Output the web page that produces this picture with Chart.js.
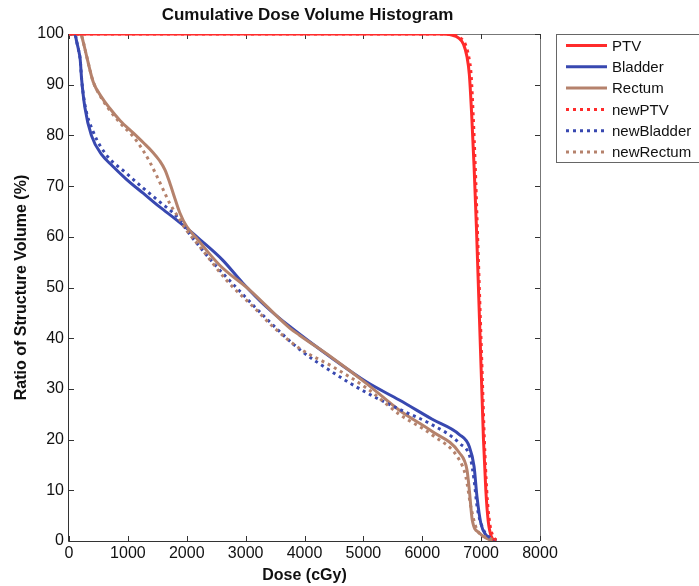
<!DOCTYPE html>
<html>
<head>
<meta charset="utf-8">
<script src="https://cdn.jsdelivr.net/npm/chart.js@4/dist/chart.umd.min.js"></script>
<style>
  html, body { margin: 0; padding: 0; background: #fff; }
</style>
</head>
<body>
<canvas id="dvh" width="699" height="586"></canvas>
<script>
// dose (cGy) and volume (%), one pair of arrays per structure
const ptvDose = [0, 6300, 6500, 6620, 6700, 6760, 6800, 6840, 6880, 6920, 6960, 7000, 7040, 7080, 7120, 7170, 7250];
const ptvVol  = [100, 100, 99.8, 99.2, 98, 95.5, 92, 84, 74, 62, 48, 34, 20, 10, 4, 1, 0];

const bladderDose = [0, 100, 130, 160, 190, 215, 270, 380, 570, 700, 980, 1260, 1540, 1830, 2050, 2220, 2610, 2950, 3350, 3750, 4475, 5050, 5610, 6170, 6630, 6800, 6880, 6930, 6995, 7080, 7250];
const bladderVol  = [100, 100, 98.5, 97, 95, 91, 85.5, 80, 76, 74.4, 71.3, 68.6, 65.9, 63.3, 61.2, 59.5, 55.4, 50.9, 46.2, 42.3, 36, 31.4, 27.8, 24, 21, 18.6, 14.7, 8.7, 3.5, 1.2, 0];

const rectumDose = [0, 200, 240, 300, 410, 550, 695, 870, 1090, 1260, 1430, 1540, 1630, 1710, 1800, 1880, 2000, 2160, 2560, 3070, 3750, 3915, 4475, 5050, 5610, 6170, 6630, 6760, 6800, 6850, 6970, 7080, 7200];
const rectumVol  = [100, 100, 98.5, 95.6, 90.6, 87.6, 85.3, 82.9, 80.5, 78.6, 76.6, 75, 73.2, 70.7, 67.5, 64.8, 62, 59.8, 54.4, 49.5, 42, 40.6, 36.1, 31.1, 25.8, 21.6, 17.4, 14, 10, 4.1, 1.6, 0.6, 0];

const newPtvDose = [0, 6350, 6540, 6650, 6730, 6790, 6830, 6865, 6900, 6935, 6975, 7015, 7055, 7095, 7140, 7200, 7300];
const newPtvVol  = [100, 100, 99.8, 99.2, 98, 95.5, 92, 84, 74, 62, 48, 34, 20, 10, 4, 1, 0];

const newBladderDose = [0, 100, 130, 160, 190, 215, 271, 412, 638, 978, 1260, 1540, 1830, 2050, 2440, 2898, 3350, 3915, 4475, 5046, 5610, 6170, 6627, 6825, 6881, 6932, 7017, 7136, 7300];
const newBladderVol  = [100, 100, 98.5, 97, 95, 91, 86, 80.7, 76.1, 72.5, 69.6, 66.9, 64, 60.5, 55, 49.3, 43.9, 37.8, 33.3, 29.3, 26, 22.9, 19.3, 16, 12, 6.8, 2.8, 0.8, 0];

const newRectumDose = [0, 200, 240, 300, 410, 550, 695, 870, 1090, 1260, 1370, 1490, 1600, 1710, 1850, 1995, 2220, 2670, 3180, 3460, 3915, 4475, 5050, 5610, 6170, 6630, 6740, 6825, 6930, 7130, 7250];
const newRectumVol  = [100, 100, 98.5, 95.6, 90.6, 87.4, 84.9, 82.4, 79.8, 77, 74.8, 72, 69.3, 66.6, 64, 61.3, 58.1, 51.5, 45.6, 42.3, 38, 34.4, 30.2, 25, 20.9, 16, 12.7, 6.8, 2.2, 0.6, 0];

const RED = '#ff2b2b';
const BLUE = '#3848b0';
const BROWN = '#b5826c';
const DOTS = [3, 4];

const FAMILY = '"Liberation Sans", Arial, sans-serif';

const pts = (xs, ys) => xs.map((x, i) => ({ x: x, y: ys[i] }));

const line = (label, xs, ys, color, dash, order) => ({
    label: label,
    data: pts(xs, ys),
    borderColor: color,
    backgroundColor: color,
    borderWidth: 3,
    borderDash: dash,
    borderCapStyle: 'butt',
    cubicInterpolationMode: 'monotone',
    pointRadius: 0,
    fill: false,
    order: order
});

// box round the plot with inward ticks on all four sides, matlab style
const frame = {
    id: 'frame',
    beforeDatasetsDraw(chart) {
        const { ctx, chartArea: a, scales } = chart;
        const t = 5;
        ctx.save();
        ctx.lineWidth = 1;
        ctx.strokeStyle = '#777';
        ctx.beginPath();
        ctx.moveTo(a.left, a.top + 0.5);
        ctx.lineTo(a.right + 0.5, a.top + 0.5);
        ctx.lineTo(a.right + 0.5, a.bottom);
        ctx.stroke();
        ctx.strokeStyle = '#333';
        ctx.beginPath();
        ctx.moveTo(a.left - 0.5, a.top);
        ctx.lineTo(a.left - 0.5, a.bottom + 0.5);
        ctx.lineTo(a.right, a.bottom + 0.5);
        ctx.stroke();
        ctx.beginPath();
        scales.x.ticks.forEach(tk => {
            const px = Math.round(scales.x.getPixelForValue(tk.value)) + 0.5;
            ctx.moveTo(px, a.bottom);
            ctx.lineTo(px, a.bottom - t);
            ctx.moveTo(px, a.top);
            ctx.lineTo(px, a.top + t);
        });
        scales.y.ticks.forEach(tk => {
            const py = Math.round(scales.y.getPixelForValue(tk.value)) + 0.5;
            ctx.moveTo(a.left, py);
            ctx.lineTo(a.left + t, py);
            ctx.moveTo(a.right, py);
            ctx.lineTo(a.right - t, py);
        });
        ctx.stroke();
        ctx.restore();
    },
    afterDraw(chart) {
        const { ctx, chartArea: a } = chart;
        ctx.save();
        // title, centred a little right of the plot like the original
        ctx.font = 'bold 17px ' + FAMILY;
        ctx.fillStyle = '#111';
        ctx.textAlign = 'center';
        ctx.textBaseline = 'middle';
        ctx.fillText('Cumulative Dose Volume Histogram', (a.left + a.right) / 2 + 3, 15);

        // legend box, partly cut off by the right edge
        const x0 = 556.5, y0 = 34.5;
        ctx.fillStyle = '#fff';
        ctx.fillRect(x0, y0, 170, 128);
        ctx.strokeStyle = '#666';
        ctx.lineWidth = 1;
        ctx.strokeRect(x0, y0, 170, 128);
        ctx.font = '15px ' + FAMILY;
        ctx.textAlign = 'left';
        ctx.fillStyle = '#111';
        chart.data.datasets.forEach((ds, i) => {
            const y = 45.5 + i * 21.3;
            ctx.strokeStyle = ds.borderColor;
            ctx.lineWidth = 3;
            ctx.setLineDash(ds.borderDash);
            ctx.beginPath();
            ctx.moveTo(566, y);
            ctx.lineTo(607, y);
            ctx.stroke();
            ctx.setLineDash([]);
            ctx.fillText(ds.label, 612, y + 1);
        });
        ctx.restore();
    }
};

const tickFont = { family: FAMILY, size: 16 };
const titleFont = { family: FAMILY, size: 16, weight: 'bold' };

new Chart(document.getElementById('dvh'), {
    type: 'line',
    data: {
        datasets: [
            line('PTV', ptvDose, ptvVol, RED, [], 4),
            line('Bladder', bladderDose, bladderVol, BLUE, [], 6),
            line('Rectum', rectumDose, rectumVol, BROWN, [], 5),
            line('newPTV', newPtvDose, newPtvVol, RED, DOTS, 1),
            line('newBladder', newBladderDose, newBladderVol, BLUE, DOTS, 3),
            line('newRectum', newRectumDose, newRectumVol, BROWN, DOTS, 2)
        ]
    },
    options: {
        responsive: false,
        animation: false,
        layout: {
            padding: { left: 0, right: 159, top: 34, bottom: 0 }
        },
        plugins: {
            legend: { display: false },
            tooltip: { enabled: false },
            title: { display: false }
        },
        scales: {
            x: {
                type: 'linear',
                min: 0,
                max: 8000,
                grid: { display: false, drawTicks: false },
                border: { display: false },
                ticks: {
                    stepSize: 1000,
                    color: '#111',
                    font: tickFont,
                    padding: 3,
                    maxRotation: 0,
                    callback: v => String(v)
                },
                title: {
                    display: true,
                    text: 'Dose (cGy)',
                    color: '#111',
                    font: titleFont,
                    padding: { top: 1, bottom: 1 }
                },
                afterFit: s => { s.height = 45; }
            },
            y: {
                min: 0,
                max: 100,
                grid: { display: false, drawTicks: false },
                border: { display: false },
                ticks: {
                    stepSize: 10,
                    color: '#111',
                    font: tickFont,
                    padding: 5
                },
                title: {
                    display: true,
                    text: 'Ratio of Structure Volume (%)',
                    color: '#111',
                    font: titleFont,
                    padding: { top: 12, bottom: 12 }
                },
                afterFit: s => { s.width = 69; }
            }
        }
    },
    plugins: [frame]
});
</script>
</body>
</html>
